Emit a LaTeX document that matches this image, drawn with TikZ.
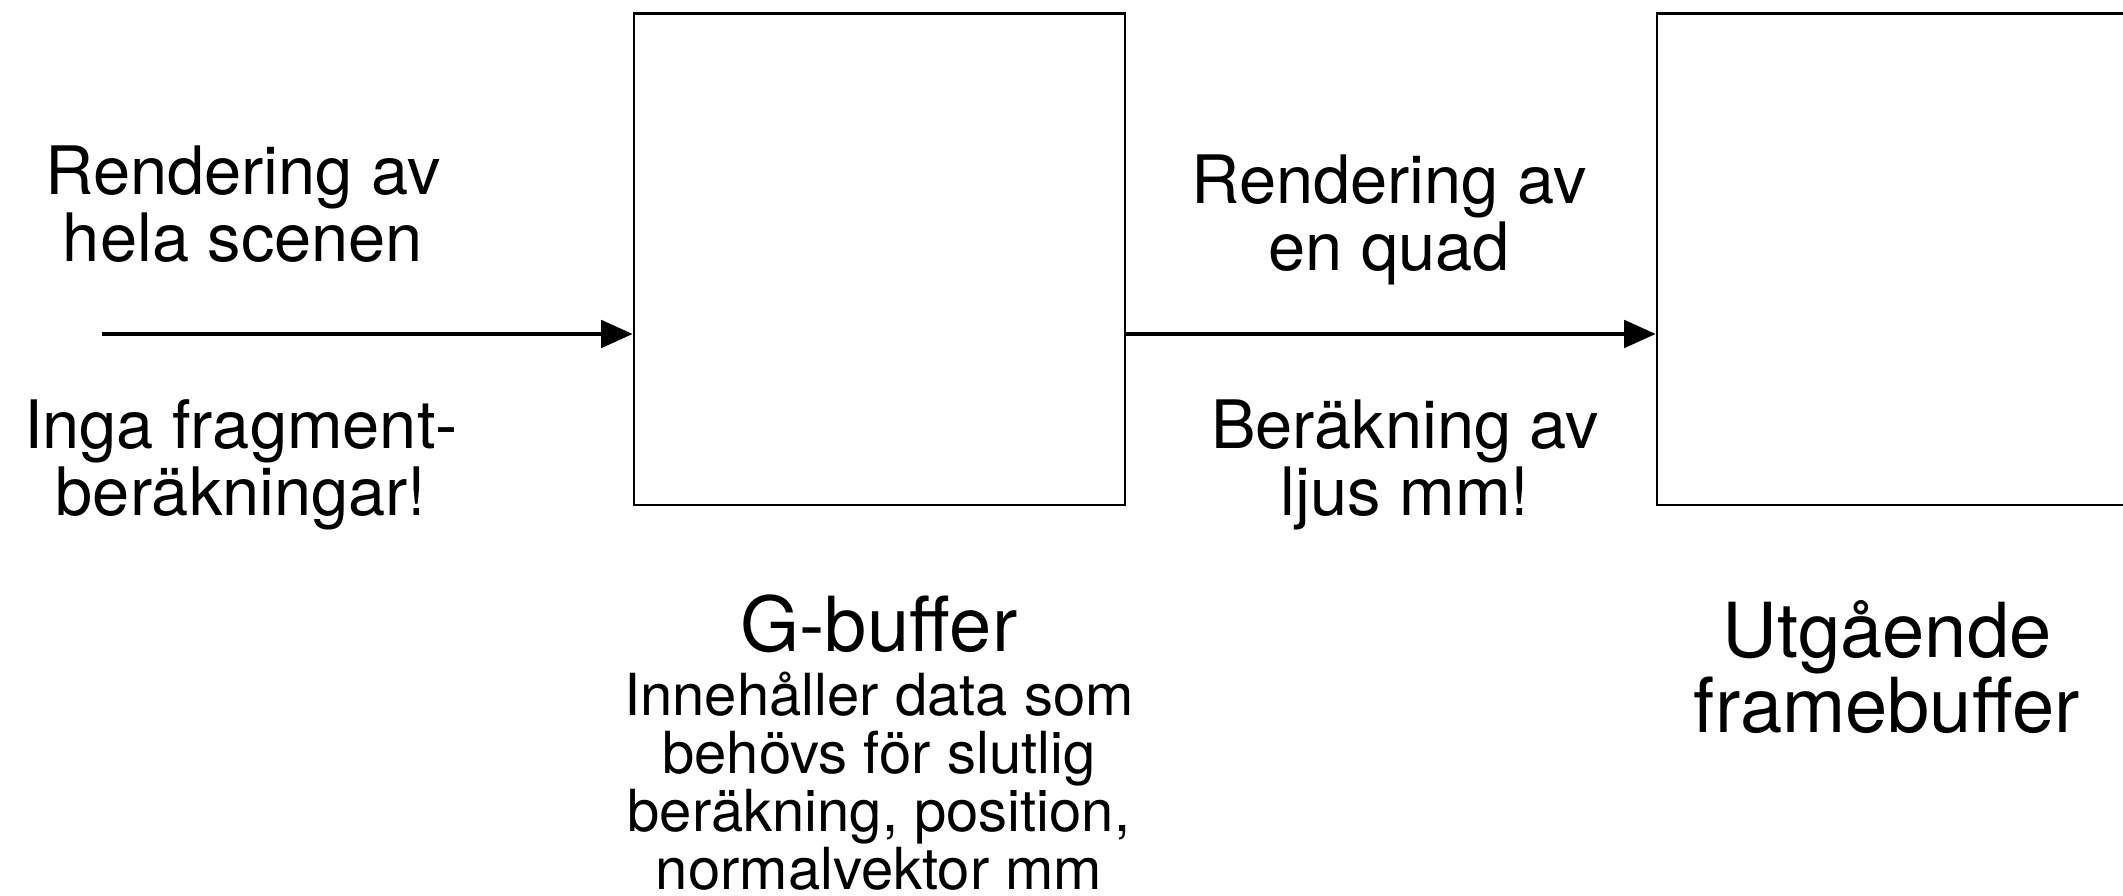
\documentclass[tikz,border=0pt]{standalone}
\usepackage{fontspec}
\setmainfont{TeX Gyre Heros}
\usetikzlibrary{positioning}
\usetikzlibrary{arrows.meta}

\begin{document}
\begin{tikzpicture}
% stilar
\tikzstyle buffertlada=[draw=black,line width=0.7pt,minimum width=4.91cm,minimum height=4.915cm,inner sep=0pt]
\tikzstyle flodespil=[draw=black,line width=1.4pt,-{Triangle[length=9pt,width=7.7pt]}]
\tikzstyle stegtext=[align=center,font=\fontsize{19}{19.3}\selectfont,inner sep=0pt]
\tikzstyle rubriktext=[align=center,font=\fontsize{21.6}{21.3}\selectfont,inner sep=0pt]
\tikzstyle infotext=[align=center,font=\fontsize{16.5}{16.5}\selectfont,inner sep=0pt]

\newcommand{\ladhojd}{6.3575} % mitten av lådorna i höjd
\newcommand{\pilhojd}{5.61}   % höjd för pilarna

% ramen
\useasboundingbox (0,0) rectangle (21.23,8.95);
\clip (0,0) rectangle (21.23,8.95);

% buffertarna
\node[buffertlada] (gbuf) at (8.795,\ladhojd) {};
\node[buffertlada] (fbuf) at (19.025,\ladhojd) {};

% pilarna
\coordinate (start) at (1.015,\pilhojd);
\draw[flodespil] (start) -- (start -| gbuf.west);
\draw[flodespil] (gbuf.east |- start) -- (start -| fbuf.west);

% texter vid pilarna (base = sista raden)
\node[stegtext,anchor=base] (scen) at (2.43,6.33) {Rendering av\\hela scenen};
\node[stegtext,anchor=base] (inga) at (2.41,3.79) {Inga fragment-\\beräkningar!};
\node[stegtext,anchor=base] (quad) at (13.89,6.24) {Rendering av\\en quad};
\node[stegtext,anchor=base] (ljus) at (14.05,3.79) {Beräkning av\\ljus mm!};

% texter under lådorna
\node[rubriktext,anchor=base] (gnamn) at (8.79,2.43) {G-buffer};
\node[infotext,anchor=base] (ginfo) at (8.79,0.06) {Innehåller data som\\behövs för slutlig\\beräkning, position,\\normalvektor mm};
\node[rubriktext,anchor=base] (fnamn) at (18.87,1.63) {Utgående\\framebuffer};
\end{tikzpicture}
\end{document}
